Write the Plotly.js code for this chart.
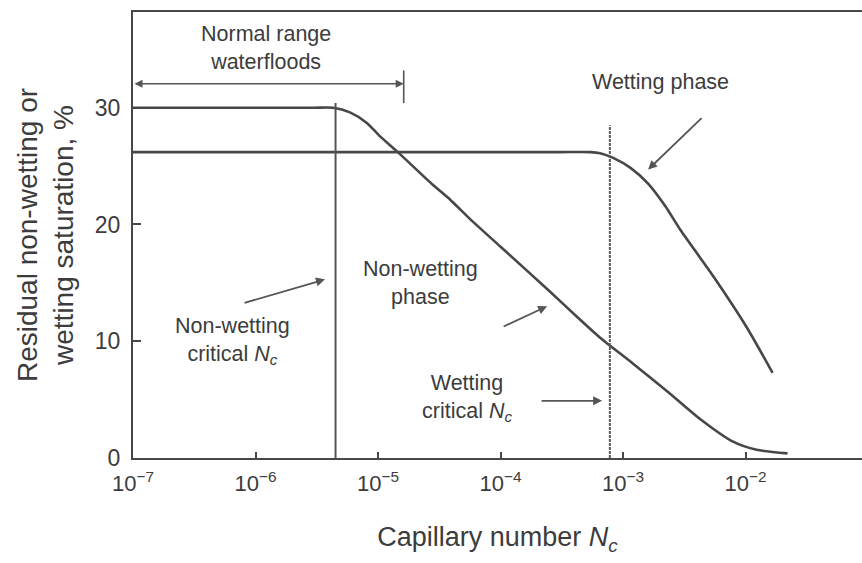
<!DOCTYPE html>
<html>
<head>
<meta charset="utf-8">
<script src="https://cdn.plot.ly/plotly-3.0.1.min.js"></script>
<style>
  html, body { margin: 0; padding: 0; background: #fff; }
  #chart { width: 862px; height: 563px; }
</style>
</head>
<body>
<div id="chart"></div>
<script>
// Residual saturation vs capillary number (desaturation curves)
const nonWettingNc  = [1e-7, 1e-6, 3.0e-6, 4.3e-6, 5.9e-6, 8.1e-6, 1.05e-5, 1.45e-5, 2.8e-5, 3.9e-5, 6.0e-5, 1e-4, 2.5e-4, 4.2e-4, 6.5e-4, 1.2e-3, 2.3e-3, 4.3e-3, 7.9e-3, 1.23e-2, 2.2e-2];
const nonWettingSat = [30, 30, 30, 30, 29.6, 28.7, 27.5, 26.2, 23.4, 22.1, 20.2, 18.1, 14.3, 12.1, 10.3, 8.1, 5.7, 3.3, 1.4, 0.7, 0.4];

const wettingNc  = [1e-7, 1e-5, 3e-4, 5.4e-4, 6.5e-4, 8.3e-4, 1.15e-3, 1.6e-3, 2.2e-3, 2.95e-3, 5.5e-3, 1.02e-2, 1.66e-2];
const wettingSat = [26.2, 26.2, 26.2, 26.2, 26.1, 25.7, 24.85, 23.5, 21.6, 19.5, 15.5, 11.2, 7.3];

// Critical capillary numbers and the height of their marker lines
const nonWettingCriticalNc = 4.5e-6;
const nonWettingCriticalTop = 30.4;
const wettingCriticalNc = 7.8e-4;
const wettingCriticalTop = 28.5;

// Normal waterflood range
const waterfloodNcMin = 1e-7;
const waterfloodNcMax = 1.62e-5;
const waterfloodLevel = 32.05;
const waterfloodTick = [30.4, 33.2];

// Axis ticks
const xTickVals = [1e-7, 1e-6, 1e-5, 1e-4, 1e-3, 1e-2];
const xTickText = ['10<sup>−7</sup>', '10<sup>−6</sup>', '10<sup>−5</sup>', '10<sup>−4</sup>', '10<sup>−3</sup>', '10<sup>−2</sup>'];
const yTickVals = [0, 10, 20, 30];
const yTickText = ['0', '10', '20', '30'];

const ink = '#474747';
const textInk = '#3c3c3c';
const FONT = 'Liberation Sans, Arial, Helvetica, sans-serif';
const lg = Math.log10;

const traces = [
  { x: nonWettingNc, y: nonWettingSat, mode: 'lines',
    line: { color: ink, width: 2.6, shape: 'spline', smoothing: 0.7 } },
  { x: wettingNc, y: wettingSat, mode: 'lines',
    line: { color: ink, width: 2.6, shape: 'spline', smoothing: 0.7 } },
  { x: [nonWettingCriticalNc, nonWettingCriticalNc], y: [0, nonWettingCriticalTop], mode: 'lines',
    line: { color: '#555', width: 2 } },
  { x: [wettingCriticalNc, wettingCriticalNc], y: [0, wettingCriticalTop], mode: 'lines',
    line: { color: '#5a5a5a', width: 2, dash: '3px,1px' } },
  { x: [waterfloodNcMax, waterfloodNcMax], y: waterfloodTick, mode: 'lines',
    line: { color: '#555', width: 1.6 } }
];

const noteFont = { family: FONT, size: 21.5, color: textInk };
const arrowStyle = { showarrow: true, arrowhead: 2, arrowsize: 1, arrowwidth: 1.8, arrowcolor: '#555', text: '' };

const annotations = [
  // double-headed range arrow
  Object.assign({}, arrowStyle, {
    x: lg(waterfloodNcMax), y: waterfloodLevel, ax: lg(waterfloodNcMin), ay: waterfloodLevel,
    axref: 'x', ayref: 'y', arrowside: 'end+start', arrowwidth: 1.6, standoff: 0, startstandoff: 0
  }),
  { x: -5.914, y: 35.1, text: 'Normal range<br>waterfloods', showarrow: false, font: noteFont },
  { x: -2.698, y: 32.2, text: 'Wetting phase', showarrow: false, font: noteFont },
  Object.assign({}, arrowStyle, { x: -2.796, y: 24.7, ax: 55, ay: -53 }),
  { x: -4.657, y: 15.0, text: 'Non-wetting<br>phase', showarrow: false, font: noteFont },
  Object.assign({}, arrowStyle, { x: -3.62, y: 13.0, ax: -45, ay: 21 }),
  { x: -6.19, y: 10.0, text: 'Non-wetting<br>critical <i>N</i><sub><i>c</i></sub>', showarrow: false, font: noteFont },
  Object.assign({}, arrowStyle, { x: -5.433, y: 15.3, ax: -82, ay: 24 }),
  { x: -4.273, y: 5.1, text: 'Wetting<br>critical <i>N</i><sub><i>c</i></sub>', showarrow: false, font: noteFont },
  Object.assign({}, arrowStyle, { x: -3.171, y: 4.9, ax: -62, ay: 0 })
];

const layout = {
  width: 862, height: 563,
  margin: { l: 133, r: 0, t: 12, b: 105 },
  paper_bgcolor: '#fff', plot_bgcolor: '#fff',
  showlegend: false,
  font: { family: FONT, color: textInk },
  xaxis: {
    type: 'log', range: [-7, -1.05], autorange: false,
    showgrid: false, zeroline: false,
    showline: true, linecolor: ink, linewidth: 2, mirror: true,
    ticks: 'inside', ticklen: 6, tickwidth: 2, tickcolor: ink,
    tickvals: xTickVals, ticktext: xTickText,
    tickfont: { family: FONT, size: 22, color: textInk },
    ticklabelstandoff: 5,
    title: { text: 'Capillary number <i>N</i><sub><i>c</i></sub>', font: { family: FONT, size: 27, color: textInk }, standoff: 32 }
  },
  yaxis: {
    range: [0, 38.2], autorange: false,
    showgrid: false, zeroline: false,
    showline: true, linecolor: ink, linewidth: 2, mirror: false,
    ticks: 'inside', ticklen: 8, tickwidth: 2, tickcolor: ink,
    tickvals: yTickVals, ticktext: yTickText,
    tickfont: { family: FONT, size: 23, color: textInk },
    ticklabelstandoff: 6,
    title: { text: 'Residual non-wetting or<br>wetting saturation, %', font: { family: FONT, size: 28, color: textInk }, standoff: 13 }
  },
  annotations: annotations
};

Plotly.newPlot('chart', traces, layout, { displayModeBar: false, staticPlot: true });
</script>
</body>
</html>
